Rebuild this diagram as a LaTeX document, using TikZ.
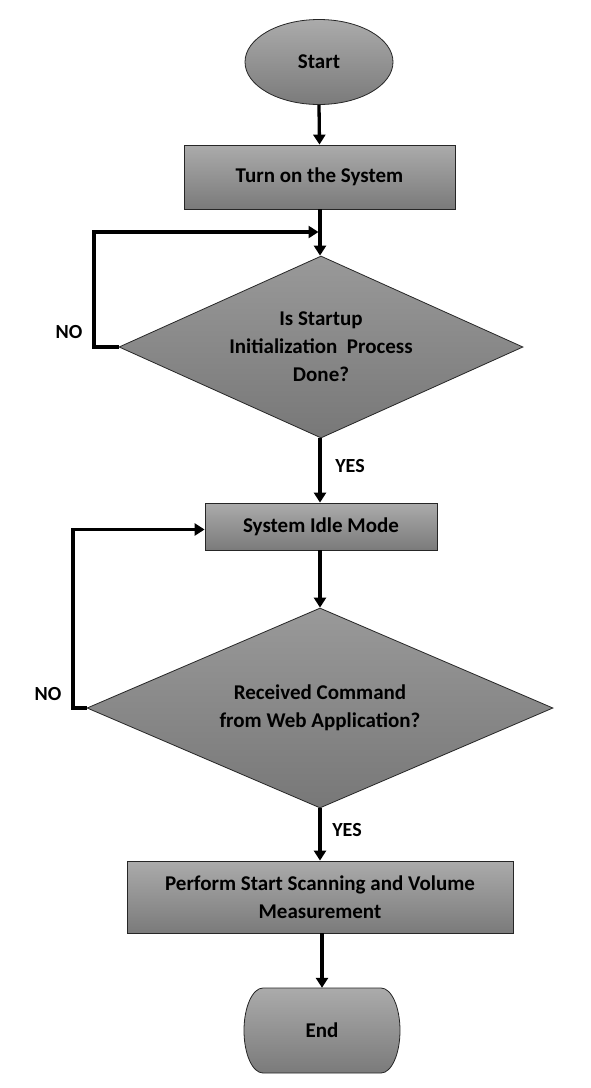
\documentclass[tikz,border=0pt]{standalone}
\usepackage{fontspec}
\setmainfont{Carlito}
\usetikzlibrary{shapes.geometric,arrows.meta}
\begin{document}
\begin{tikzpicture}[x=1pt,y=-1pt,
  every node/.style={font=\bfseries\fontsize{21}{28}\selectfont, text=black, align=center},
  shade/.style={draw=black!85, line width=0.8pt},
  procbox/.style={rectangle, shade, top color=black!33, bottom color=black!52, inner sep=0pt},
  decision/.style={diamond, shade, top color=black!40, bottom color=black!53, inner sep=0pt, aspect=2.2},
  flow/.style={line width=3.3pt, -{Triangle[length=10pt,width=12pt]}},
  lbl/.style={font=\bfseries\fontsize{20}{24}\selectfont}
]
\useasboundingbox[fill=white] (0,0) rectangle (590,1088);

\node[ellipse, shade, top color=black!33, bottom color=black!52, minimum width=148, minimum height=85, inner sep=0pt] (start) at (319,62) {Start};
\node[procbox, minimum width=271, minimum height=64] (b1) at (319.5,177) {Turn on the System};
\node[decision, minimum width=404, minimum height=182] (d1) at (321,347) {Is Startup\\Initialization\ \ Process\\Done?};
\node[procbox, minimum width=232, minimum height=47] (b2) at (321,526.5) {System Idle Mode};
\node[decision, minimum width=466, minimum height=200] (d2) at (320,708) {Received Command\\from Web Application?};
\node[procbox, minimum width=386, minimum height=72] (b3) at (320,897) {Perform Start Scanning and Volume\\Measurement};

\path[shade, top color=black!33, bottom color=black!52]
  (263,988) -- (381,988) arc[start angle=-90,end angle=90,x radius=19,y radius=42.5]
  -- (263,1073) arc[start angle=90,end angle=270,x radius=19,y radius=42.5] -- cycle;
\node[minimum width=156, minimum height=85, inner sep=0pt] (end) at (322,1030.5) {End};

\coordinate (j1) at (320,232);
\coordinate (l1) at (94,347);
\coordinate (l2) at (73,708);

\draw[flow] (start.south) -- (b1.north);
\draw[flow] (b1.south -| j1) -- (d1.north -| j1);
\draw[flow] (d1.west) -- (l1) |- ([xshift=-1.5pt]j1);
\draw[flow] (d1.south -| j1) -- (b2.north -| j1);
\draw[flow] (b2.south -| j1) -- (d2.north -| j1);
\draw[flow] (d2.west) -- (l2) |- ([yshift=-3pt]b2.west);
\draw[flow] (d2.south -| j1) -- (b3.north -| j1);
\draw[flow] (b3.south -| end) -- (end.north);

\node[lbl] (no1) at (69,332) {NO};
\node[lbl] (yes1) at (350,466) {YES};
\node[lbl] (no2) at (48,694) {NO};
\node[lbl] (yes2) at (347,830) {YES};
\end{tikzpicture}
\end{document}
